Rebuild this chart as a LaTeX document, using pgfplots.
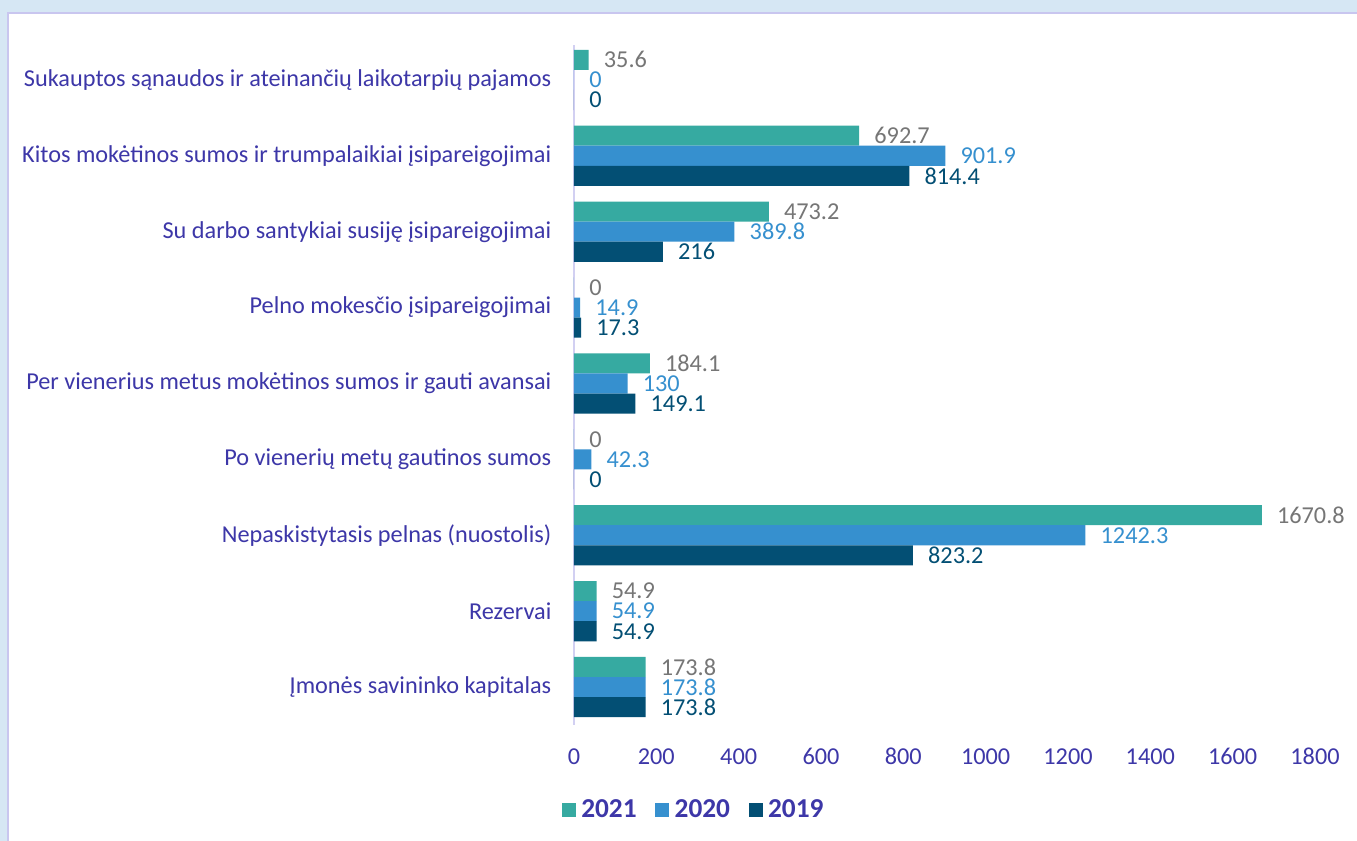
\documentclass[border=0pt]{standalone}
\usepackage{pgfplots}
\pgfplotsset{compat=1.18}
\usepackage{fontspec}
\setmainfont{Carlito}
\definecolor{bgblue}{HTML}{D6E7F4}
\definecolor{borderc}{HTML}{C9C6EF}
\definecolor{c2021}{HTML}{36AAA1}
\definecolor{c2020}{HTML}{3690CF}
\definecolor{c2019}{HTML}{034F74}
\definecolor{labgray}{HTML}{767676}
\definecolor{indigo}{HTML}{3D37A8}
\definecolor{axisc}{HTML}{D2D0F2}
\begin{document}
\begin{tikzpicture}[x=0.75pt,y=0.75pt]
\useasboundingbox (0,0) rectangle (1357,841);
\fill[bgblue] (0,0) rectangle (1357,841);
\fill[white] (8,0) rectangle (1357,828);
\draw[borderc, line width=1.5pt] (8,0) -- (8,828) -- (1357,828);
\begin{axis}[
  at={(430.5pt,87pt)}, anchor=south west,
  scale only axis, width=555.75pt, height=510pt,
  xmin=0, xmax=1800, ymin=-0.5, ymax=8.46,
  xtick={0,200,...,1800},
  ytick={0,...,8},
  yticklabels={Įmonės savininko kapitalas, Rezervai, Nepaskistytasis pelnas (nuostolis), Po vienerių metų gautinos sumos, Per vienerius metus mokėtinos sumos ir gauti avansai, Pelno mokesčio įsipareigojimai, Su darbo santykiai susiję įsipareigojimai, Kitos mokėtinos sumos ir trumpalaikiai įsipareigojimai, Sukauptos sąnaudos ir ateinančių laikotarpių pajamos},
  axis lines*=left,
  x axis line style={draw=none},
  y axis line style={draw=axisc, line width=1.1pt},
  major tick length=0pt,
  tick style={draw=none},
  /pgf/number format/assume math mode=true,
  /pgf/number format/1000 sep={},
  ticklabel style={font=\fontsize{18.2}{21}\selectfont, text=indigo},
  xticklabel style={yshift=-14pt},
  yticklabel style={xshift=-13.5pt},
  xbar, bar width=0.2646,
  point meta=explicit symbolic,
  nodes near coords,
  every node near coord/.append style={anchor=west, inner sep=0pt, xshift=11.25pt, font=\fontsize{18.2}{21}\selectfont},
  legend columns=3,
  legend style={draw=none, fill=none, at={(0.162,-0.125)}, anchor=center,
    font=\fontsize{20.5}{22}\selectfont\bfseries, text=indigo,
    /tikz/every odd column/.append style={column sep=2pt},
    /tikz/every even column/.append style={column sep=12pt}},
  legend image code/.code={\fill[#1] (0pt,-5.25pt) rectangle (10.5pt,5.25pt);},
  clip=false,
]
\addplot[xbar, bar shift=0.2646, fill=c2021, draw=none,
  every node near coord/.append style={text=labgray}] coordinates {
  (173.8,0) [173.8]
  (54.9,1) [54.9]
  (1670.8,2) [1670.8]
  (0,3) [0]
  (184.1,4) [184.1]
  (0,5) [0]
  (473.2,6) [473.2]
  (692.7,7) [692.7]
  (35.6,8) [35.6]
};
\addlegendentry{2021}
\addplot[xbar, bar shift=0, fill=c2020, draw=none,
  every node near coord/.append style={text=c2020}] coordinates {
  (173.8,0) [173.8]
  (54.9,1) [54.9]
  (1242.3,2) [1242.3]
  (42.3,3) [42.3]
  (130,4) [130]
  (14.9,5) [14.9]
  (389.8,6) [389.8]
  (901.9,7) [901.9]
  (0,8) [0]
};
\addlegendentry{2020}
\addplot[xbar, bar shift=-0.2646, fill=c2019, draw=none,
  every node near coord/.append style={text=c2019}] coordinates {
  (173.8,0) [173.8]
  (54.9,1) [54.9]
  (823.2,2) [823.2]
  (0,3) [0]
  (149.1,4) [149.1]
  (17.3,5) [17.3]
  (216,6) [216]
  (814.4,7) [814.4]
  (0,8) [0]
};
\addlegendentry{2019}
\end{axis}
\end{tikzpicture}
\end{document}
